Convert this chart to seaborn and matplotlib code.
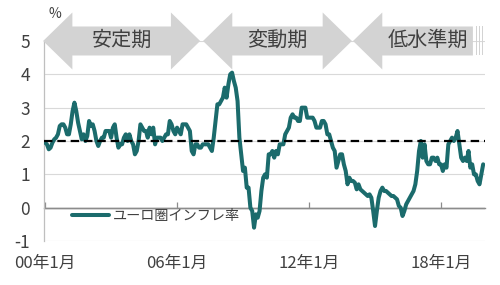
import numpy as np
import pandas as pd
import matplotlib
matplotlib.use("Agg")
import matplotlib.pyplot as plt
import seaborn as sns
from matplotlib.patches import Polygon, Rectangle

# ---- data (monthly, Jan 2000 - Dec 2019) ----
y2000 = [1.95, 1.9, 1.75, 1.8, 1.95, 2.05, 2.1, 2.2, 2.45, 2.5, 2.5, 2.4]
y2001 = [2.2, 2.2, 2.5, 2.9, 3.15, 2.9, 2.55, 2.3, 2.05, 2.2, 2.0, 2.15]
y2002 = [2.6, 2.45, 2.5, 2.3, 2.0, 1.85, 2.0, 2.1, 2.1, 2.3, 2.3, 2.3]
y2003 = [2.1, 2.4, 2.5, 2.1, 1.8, 1.9, 1.9, 2.1, 2.2, 2.0, 2.2, 2.0]
y2004 = [1.9, 1.6, 1.7, 2.0, 2.5, 2.4, 2.3, 2.3, 2.1, 2.4, 2.2, 2.4]
y2005 = [1.9, 2.1, 2.1, 2.1, 2.0, 2.1, 2.2, 2.2, 2.6, 2.5, 2.3, 2.2]
y2006 = [2.4, 2.3, 2.2, 2.5, 2.5, 2.5, 2.4, 2.3, 1.7, 1.6, 1.9, 1.9]
y2007 = [1.8, 1.8, 1.9, 1.9, 1.9, 1.9, 1.8, 1.7, 2.1, 2.6, 3.1, 3.1]
y2008 = [3.2, 3.3, 3.6, 3.3, 3.7, 4.0, 4.05, 3.8, 3.6, 3.2, 2.1, 1.6]
y2009 = [1.1, 1.2, 0.6, 0.6, 0.0, -0.1, -0.6, -0.2, -0.3, -0.1, 0.5, 0.9]
y2010 = [1.0, 0.9, 1.6, 1.6, 1.7, 1.5, 1.7, 1.6, 1.9, 1.9, 1.9, 2.2]
y2011 = [2.3, 2.4, 2.7, 2.8, 2.7, 2.7, 2.6, 2.6, 3.0, 3.0, 3.0, 2.7]
y2012 = [2.7, 2.7, 2.7, 2.6, 2.4, 2.4, 2.4, 2.6, 2.6, 2.5, 2.2, 2.2]
y2013 = [2.0, 1.8, 1.7, 1.2, 1.4, 1.6, 1.6, 1.3, 1.1, 0.7, 0.9, 0.8]
y2014 = [0.8, 0.75, 0.55, 0.7, 0.55, 0.5, 0.45, 0.4, 0.35, 0.4, 0.3, -0.1]
y2015 = [-0.55, -0.1, 0.3, 0.5, 0.6, 0.5, 0.5, 0.45, 0.4, 0.35, 0.35, 0.3]
y2016 = [0.25, 0.05, 0.0, -0.25, -0.1, 0.1, 0.2, 0.3, 0.4, 0.5, 0.7, 1.1]
y2017 = [1.7, 2.0, 1.5, 1.9, 1.4, 1.3, 1.3, 1.5, 1.5, 1.4, 1.5, 1.3]
y2018 = [1.3, 1.1, 1.3, 1.2, 1.9, 2.0, 2.1, 2.0, 2.1, 2.3, 1.9, 1.5]
y2019 = [1.4, 1.5, 1.4, 1.7, 1.2, 1.3, 1.0, 1.0, 0.8, 0.7, 1.0, 1.3]

inflation = (y2000 + y2001 + y2002 + y2003 + y2004 + y2005 + y2006 + y2007 +
             y2008 + y2009 + y2010 + y2011 + y2012 + y2013 + y2014 + y2015 +
             y2016 + y2017 + y2018 + y2019)

series_name = "ユーロ圏インフレ率"
target = 2
tick_years = [0, 6, 12, 18]
tick_labels = ["00年1月", "06年1月", "12年1月", "18年1月"]
y_ticks = [-1, 0, 1, 2, 3, 4, 5]
period_labels = ["安定期", "変動期", "低水準期"]
period_bounds = [(-0.09, 7.05), (7.18, 13.95), (14.0, 19.45)]

# ---- style ----
LINE = "#1b6b6c"
GRAY_TXT = "#404040"
ARROW = "#d3d3d3"

sns.set_style("white")
plt.rcParams["font.family"] = ["Noto Sans CJK JP", "DejaVu Sans"]

fig = plt.figure(figsize=(5, 2.85), dpi=100)
ax = fig.add_axes([0.088, 0.1544, 0.882, 0.7018])

df = pd.DataFrame({"t": np.arange(len(inflation)) / 12.0, "v": inflation})
sns.lineplot(data=df, x="t", y="v", ax=ax, color=LINE, lw=2.9,
             label=series_name, zorder=3)
ax.axhline(target, color="black", ls=(0, (3.8, 2.2)), lw=1.6, zorder=4)
ax.axhline(0, color="#8c8c8c", lw=1.0, zorder=2)

ax.set_xlim(-0.05, 20.0)
ax.set_ylim(-1, 5)
ax.set_yticks(y_ticks)
ax.set_yticklabels([str(v) for v in y_ticks])
ax.yaxis.grid(True, color="#d9d9d9", lw=0.8)
ax.set_axisbelow(True)
ax.set_xlabel("")
ax.set_ylabel("")
for s in ["top", "right", "bottom"]:
    ax.spines[s].set_visible(False)
ax.spines["left"].set_color("#bfbfbf")
ax.spines["left"].set_linewidth(0.9)

ax.set_xticks(tick_years)
ax.set_xticklabels(tick_labels)
ax.tick_params(axis="x", length=0, pad=10, labelsize=12, labelcolor=GRAY_TXT)
ax.tick_params(axis="y", length=0, pad=10, labelsize=12.5, labelcolor=GRAY_TXT)

# zero axis line with small ticks
sec = ax.secondary_xaxis(1 / 6)
sec.set_xticks(tick_years)
sec.set_xticklabels([""] * len(tick_years))
sec.tick_params(axis="x", direction="in", length=4, color="#8c8c8c", width=0.9)
for s in sec.spines.values():
    s.set_color("#8c8c8c")
    s.set_linewidth(1.0)

# legend
leg = ax.legend(loc="center left", bbox_to_anchor=(0.0635, 0.125), frameon=False,
                fontsize=10.2, handlelength=2.6, handletextpad=0.3,
                borderpad=0, borderaxespad=0)
for t in leg.get_texts():
    t.set_color(GRAY_TXT)

# period arrows
yc, bh, hh, hl = 5.0, 0.435, 0.855, 1.33


def arrow_pts(x0, x1, right_head=True):
    pts = [(x0, yc), (x0 + hl, yc + hh), (x0 + hl, yc + bh)]
    if right_head:
        pts += [(x1 - hl, yc + bh), (x1 - hl, yc + hh), (x1, yc),
                (x1 - hl, yc - hh), (x1 - hl, yc - bh)]
    else:
        pts += [(x1, yc + bh), (x1, yc - bh)]
    pts += [(x0 + hl, yc - bh), (x0 + hl, yc - hh)]
    return pts


for i, ((x0, x1), lab) in enumerate(zip(period_bounds, period_labels)):
    last = i == len(period_bounds) - 1
    ax.add_patch(Polygon(arrow_pts(x0, x1, right_head=not last), closed=True,
                         facecolor=ARROW, edgecolor="none", clip_on=False, zorder=5))
    cx = (x0 + hl + x1) / 2 if last else (x0 + x1) / 2
    ax.text(cx, yc + 0.02, lab, ha="center", va="center", fontsize=14.5,
            color=GRAY_TXT, zorder=6, clip_on=False)
    if last:
        for k in range(3):
            ax.add_patch(Rectangle((x1 + 0.15 + k * 0.14, yc - bh), 0.05, 2 * bh,
                                   facecolor=ARROW, edgecolor="none",
                                   clip_on=False, zorder=5))

fig.text(0.11, 1 - 14 / 285, "%", ha="center", va="center", fontsize=10,
         color=GRAY_TXT)

fig.savefig("out.png", dpi=100)
